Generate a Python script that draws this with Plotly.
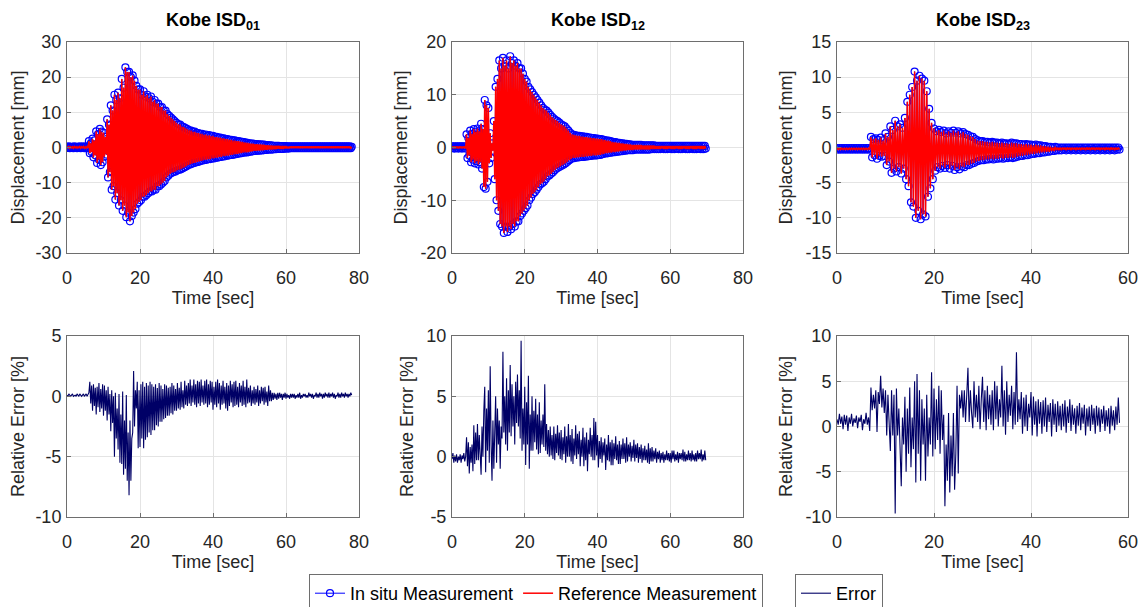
import plotly.graph_objects as go

# sample interval of the recorded signals [sec]
dt = 0.25

# displacement [mm] (reference / in-situ), one value every dt seconds
disp_01 = [0.2, -0.1, 0.3, -0.2, 0.2, -0.1, 0.2, -0.2,
           0.3, -0.1, 0.2, -0.2, 0.2, -0.1, 0.3, -0.2,
           0.2, -0.1, 0.3, -0.2, 0.2, -0.2, 0.3, -0.1,
           1.8, -1.6, 1.2, -1.3, 2.5, -2.8, 2.0, -2.2,
           4.6, -4.4, 3.8, -3.5, 5.3, -5.0, 4.5, -4.2,
           4.2, -2.6, 3.0, -2.0, 8.0, -8.5, 6.5, -7.0,
           12.0, -12.0, 10.5, -11.0, 15.0, -14.8, 13.5, -13.0,
           15.6, -16.5, 14.0, -15.0, 19.5, -18.0, 17.0, -16.5,
           22.8, -19.8, 21.5, -18.5, 21.5, -21.0, 20.0, -19.5,
           20.5, -18.5, 19.0, -17.5, 17.5, -16.0, 16.5, -15.5,
           16.5, -15.0, 15.0, -14.0, 16.0, -14.0, 14.5, -13.5,
           15.0, -13.0, 14.0, -12.5, 14.5, -12.5, 13.0, -12.0,
           13.5, -12.0, 12.5, -11.0, 12.5, -11.0, 11.5, -10.5,
           11.5, -10.0, 10.5, -9.5, 10.5, -8.5, 9.5, -8.0,
           9.0, -7.5, 8.5, -7.2, 8.0, -7.0, 7.5, -6.8,
           7.0, -6.5, 6.6, -6.3, 6.5, -6.2, 6.0, -5.9,
           5.8, -5.6, 5.5, -5.3, 5.2, -5.0, 4.9, -4.8,
           4.8, -4.6, 4.5, -4.4, 4.5, -4.3, 4.2, -4.1,
           4.1, -4.0, 3.9, -3.8, 3.9, -3.7, 3.6, -3.5,
           3.7, -3.5, 3.4, -3.3, 3.5, -3.3, 3.2, -3.1,
           3.3, -3.1, 3.0, -2.9, 3.0, -2.9, 2.8, -2.7,
           2.8, -2.7, 2.6, -2.5, 2.6, -2.5, 2.4, -2.3,
           2.4, -2.3, 2.2, -2.1, 2.2, -2.1, 2.0, -2.0,
           2.0, -1.9, 1.8, -1.8, 1.8, -1.7, 1.7, -1.6,
           1.6, -1.5, 1.5, -1.4, 1.4, -1.4, 1.3, -1.3,
           1.2, -1.2, 1.1, -1.1, 1.1, -1.0, 1.0, -1.0,
           1.0, -0.9, 0.9, -0.9, 0.9, -0.8, 0.8, -0.8,
           0.8, -0.7, 0.7, -0.7, 0.7, -0.6, 0.6, -0.6,
           0.6, -0.6, 0.5, -0.5, 0.5, -0.5, 0.5, -0.4,
           0.5, -0.4, 0.4, -0.4, 0.4, -0.4, 0.4, -0.3,
           0.4, -0.3, 0.3, -0.3, 0.3, -0.2, 0.3, -0.2,
           0.3, -0.2, 0.3, -0.2, 0.3, -0.2, 0.3, -0.2,
           0.3, -0.2, 0.3, -0.2, 0.3, -0.2, 0.3, -0.2,
           0.3, -0.2, 0.3, -0.2, 0.3, -0.2, 0.3, -0.2,
           0.3, -0.2, 0.3, -0.2, 0.3, -0.2, 0.3, -0.2,
           0.3, -0.2, 0.3, -0.2, 0.3, -0.2, 0.3, -0.2,
           0.3, -0.2, 0.3, -0.2, 0.3, -0.2, 0.3, -0.2,
           0.3, -0.2, 0.3, -0.2, 0.3, -0.2, 0.3, -0.2,
           0.3, -0.2, 0.3, -0.2, 0.3, -0.2, 0.3, -0.2,
           0.2]

disp_12 = [0.2, -0.1, 0.2, -0.2, 0.2, -0.1, 0.2, -0.2,
           0.2, -0.1, 0.2, -0.2, 0.2, -0.1, 0.2, -0.2,
           2.5, -2.0, 1.8, -1.5, 3.2, -2.8, 2.6, -2.3,
           3.5, -3.0, 3.0, -2.6, 3.6, -3.2, 3.1, -2.8,
           4.5, -4.0, 3.5, -7.5, 9.0, -7.8, 8.0, -6.5,
           7.5, -3.0, 2.7, -2.0, 0.8, -0.6, 5.0, -6.0,
           11.5, -10.0, 13.0, -12.0, 16.5, -14.5, 15.0, -15.0,
           17.0, -16.2, 15.5, -15.0, 16.5, -16.0, 15.0, -15.0,
           17.3, -15.5, 16.0, -14.5, 16.5, -15.0, 15.5, -14.0,
           16.0, -14.0, 15.0, -13.0, 15.0, -12.5, 14.0, -12.0,
           13.0, -11.5, 12.5, -11.0, 11.5, -10.0, 11.0, -9.5,
           10.5, -8.8, 10.0, -8.5, 9.5, -8.0, 9.0, -7.5,
           8.5, -7.0, 8.0, -6.8, 7.5, -6.5, 7.2, -6.0,
           7.0, -5.5, 6.6, -5.3, 6.2, -5.0, 5.8, -4.7,
           5.5, -4.3, 5.2, -4.0, 5.0, -3.8, 4.7, -3.6,
           4.4, -3.4, 4.2, -3.2, 4.0, -3.0, 3.6, -2.7,
           3.2, -2.4, 2.8, -2.2, 2.5, -2.0, 2.4, -2.0,
           2.3, -1.9, 2.2, -1.9, 2.2, -1.8, 2.1, -1.8,
           2.1, -1.8, 2.0, -1.7, 2.0, -1.7, 1.9, -1.6,
           1.9, -1.6, 1.8, -1.5, 1.8, -1.5, 1.7, -1.5,
           1.7, -1.4, 1.6, -1.4, 1.6, -1.3, 1.5, -1.2,
           1.4, -1.1, 1.3, -1.1, 1.3, -1.0, 1.2, -1.0,
           1.1, -0.9, 1.0, -0.9, 1.0, -0.8, 0.9, -0.8,
           0.9, -0.7, 0.8, -0.7, 0.8, -0.6, 0.7, -0.6,
           0.7, -0.5, 0.6, -0.5, 0.6, -0.5, 0.5, -0.5,
           0.5, -0.4, 0.5, -0.4, 0.5, -0.4, 0.5, -0.4,
           0.5, -0.4, 0.4, -0.4, 0.4, -0.4, 0.4, -0.4,
           0.4, -0.4, 0.4, -0.3, 0.4, -0.3, 0.4, -0.3,
           0.3, -0.3, 0.3, -0.3, 0.3, -0.3, 0.3, -0.2,
           0.3, -0.3, 0.3, -0.3, 0.3, -0.3, 0.3, -0.2,
           0.3, -0.3, 0.3, -0.3, 0.3, -0.3, 0.3, -0.2,
           0.3, -0.3, 0.3, -0.3, 0.3, -0.3, 0.3, -0.2,
           0.3, -0.3, 0.3, -0.3, 0.3, -0.3, 0.3, -0.2,
           0.3, -0.3, 0.3, -0.3, 0.3, -0.3, 0.3, -0.2,
           0.3, -0.3, 0.3, -0.3, 0.3, -0.3, 0.3, -0.2]

disp_23 = [-0.1, -0.3, -0.1, -0.3, -0.1, -0.3, -0.1, -0.3,
           -0.1, -0.3, -0.1, -0.3, -0.1, -0.3, -0.1, -0.3,
           -0.1, -0.3, -0.1, -0.3, -0.1, -0.3, -0.1, -0.3,
           -0.1, -0.3, -0.1, -0.3, 1.5, -1.4, 1.2, -1.1,
           1.3, -1.6, 1.1, -1.2, 1.4, -1.3, 1.0, -1.2,
           2.0, -2.5, 1.5, -2.0, 3.0, -3.6, 2.5, -3.0,
           3.8, -3.4, 3.0, -2.8, 3.3, -3.7, 2.8, -3.0,
           4.2, -4.5, 6.5, -5.5, 7.5, -7.8, 8.6, -8.4,
           10.8, -10.0, 9.5, -9.0, 10.2, -10.2, 9.8, -9.5,
           9.5, -9.8, 8.0, -7.0, 5.5, -5.8, 3.5, -4.5,
           2.7, -3.3, 2.3, -2.8, 2.5, -3.0, 2.2, -2.6,
           2.4, -2.9, 2.0, -2.5, 2.3, -3.0, 2.1, -2.6,
           2.4, -3.2, 2.1, -2.8, 2.3, -3.1, 2.0, -2.7,
           2.2, -2.8, 1.9, -2.5, 1.8, -2.5, 1.6, -2.3,
           1.5, -2.2, 1.2, -2.0, 1.0, -1.9, 0.9, -1.8,
           0.9, -1.8, 0.8, -1.7, 0.8, -1.7, 0.7, -1.6,
           0.8, -1.7, 0.7, -1.6, 0.7, -1.6, 0.6, -1.5,
           0.7, -1.6, 0.6, -1.5, 0.6, -1.5, 0.5, -1.4,
           0.7, -1.5, 0.6, -1.4, 0.6, -1.3, 0.5, -1.2,
           0.5, -1.2, 0.4, -1.1, 0.5, -1.1, 0.4, -1.0,
           0.4, -0.9, 0.3, -0.9, 0.4, -0.8, 0.3, -0.8,
           0.3, -0.7, 0.2, -0.7, 0.2, -0.6, 0.1, -0.6,
           0.1, -0.5, 0.0, -0.5, 0.1, -0.4, 0.0, -0.4,
           0.0, -0.4, 0.0, -0.3, 0.0, -0.4, 0.0, -0.3,
           0.0, -0.4, 0.0, -0.3, 0.0, -0.4, 0.0, -0.3,
           0.0, -0.4, 0.0, -0.3, 0.0, -0.4, 0.0, -0.3,
           0.0, -0.4, 0.0, -0.3, 0.0, -0.4, 0.0, -0.3,
           0.0, -0.4, 0.0, -0.3, 0.0, -0.4, 0.0, -0.3,
           0.0, -0.4, 0.0, -0.3, 0.0, -0.4, 0.0, -0.3,
           0.0, -0.3]

# relative error [%], one value every dt seconds
err_01 = [0.1, 0.0, 0.2, 0.1, 0.0, 0.1, 0.2, 0.0,
          0.1, 0.1, 0.0, 0.2, 0.1, 0.0, 0.2, 0.1,
          0.0, 0.1, 0.2, 0.0, 0.1, 0.2, 0.0, 0.1,
          0.3, 1.2, -0.6, 0.9, -1.2, 1.0, -0.8, 0.7,
          -1.5, 0.8, -0.9, 1.1, -1.3, 0.6, -1.0, 1.0,
          -1.6, 0.9, -1.2, 0.5, -2.0, 0.8, -1.5, 0.2,
          -2.9, 0.5, -2.2, 0.0, -5.0, 0.3, -3.5, -1.0,
          -4.4, 0.2, -5.5, -1.5, -5.6, 0.4, -6.5, -2.0,
          -6.0, 0.1, -7.0, -3.0, -8.2, -2.0, -7.0, -3.5,
          -3.0, 2.1, -2.5, 0.5, -1.0, 1.2, -4.3, 0.5,
          -4.2, 1.0, -3.5, 1.2, -4.3, 0.8, -3.6, 1.1,
          -3.4, 0.9, -3.0, 1.2, -3.2, 1.0, -2.8, 0.8,
          -2.8, 1.0, -2.4, 0.7, -2.5, 1.1, -2.1, 0.9,
          -2.1, 0.6, -1.9, 1.0, -1.8, 0.9, -1.6, 0.7,
          -1.6, 0.8, -1.4, 1.1, -1.5, 0.9, -1.2, 0.6,
          -1.2, 1.1, -1.0, 0.7, -1.1, 1.2, -0.9, 0.5,
          -1.0, 1.3, -0.7, 0.9, -0.8, 1.1, -0.6, 1.4,
          -0.8, 0.9, -0.5, 1.4, -0.7, 1.0, -0.9, 1.3,
          -0.6, 1.2, -0.8, 1.4, -0.5, 0.9, -0.7, 1.3,
          -0.6, 1.4, -0.9, 1.0, -0.7, 1.3, -0.5, 1.2,
          -1.1, 0.8, -0.7, 1.2, -0.9, 1.4, -0.6, 1.1,
          -1.1, 0.9, -0.7, 1.3, -0.6, 0.8, -1.0, 1.1,
          -1.2, 0.9, -0.8, 1.3, -0.5, 1.0, -0.9, 1.2,
          -0.8, 1.3, -0.7, 0.8, -0.9, 1.1, -0.5, 0.9,
          -0.8, 1.3, -0.7, 0.8, -0.9, 1.4, -0.6, 0.7,
          -0.5, 0.9, -0.8, 0.5, -0.6, 0.8, -0.7, 0.6,
          -0.5, 0.9, -0.8, 0.5, -0.6, 0.8, -0.4, 0.7,
          -0.7, 0.8, -0.5, 0.4, -0.8, 0.9, -0.4, 0.5,
          -0.4, 0.3, -0.3, 0.3, -0.2, 0.2, -0.3, 0.3,
          -0.2, 0.3, -0.1, 0.2, -0.3, 0.2, -0.1, 0.3,
          -0.2, 0.2, -0.1, 0.1, -0.2, 0.2, -0.1, 0.2,
          -0.1, 0.2, -0.2, 0.1, -0.1, 0.2, -0.1, 0.3,
          -0.2, 0.1, -0.1, 0.2, 0.0, 0.2, -0.1, 0.1,
          -0.1, 0.3, 0.0, 0.2, -0.1, 0.2, -0.2, 0.1,
          0.0, 0.3, -0.1, 0.2, -0.1, 0.3, 0.0, 0.2,
          -0.2, 0.2, -0.1, 0.3, 0.0, 0.2, -0.1, 0.3,
          -0.1, 0.2, 0.0, 0.3, -0.1, 0.2, -0.2, 0.1,
          0.0, 0.3, -0.1, 0.2, -0.1, 0.3, 0.0, 0.2,
          -0.1, 0.3, 0.0, 0.2, -0.1, 0.2, 0.0, 0.3,
          0.1]

err_12 = [-0.2, 0.3, -0.5, 0.1, -0.4, 0.2, -0.5, 0.0,
          -0.3, 0.2, -0.5, 0.1, -0.2, 0.3, -0.4, 0.0,
          1.6, -0.8, 1.2, -1.4, 0.8, -0.5, 1.0, -1.2,
          2.6, -0.6, 2.0, -0.3, 2.7, -0.3, 1.8, -0.8,
          -1.5, 2.5, 0.0, 3.8, 5.8, -1.3, 4.0, 0.5,
          5.5, -0.5, 7.5, 1.0, -2.0, 3.0, -1.0, 2.0,
          5.0, -0.5, 4.0, 1.0, 3.0, -1.0, 2.5, 1.5,
          8.7, 2.0, 5.0, 1.0, 6.5, 0.5, 5.5, 2.0,
          7.6, 1.7, 6.0, 2.5, 5.0, 1.0, 6.2, 2.8,
          6.8, 2.5, 5.5, 1.5, 9.6, 0.5, 4.0, 1.0,
          5.8, -0.7, 4.5, 1.0, 6.7, -1.0, 3.5, 0.5,
          5.0, 0.5, 3.8, 1.2, 4.8, 0.6, 3.5, 0.2,
          4.5, 0.3, 3.0, 1.0, 3.5, 0.8, 6.0, 0.5,
          2.7, 0.2, 2.2, 0.0, 2.5, 0.1, 1.8, -0.2,
          2.5, -0.3, 1.9, 0.3, 2.6, 0.1, 2.0, -0.2,
          2.2, -0.3, 1.6, 0.2, 2.5, -0.5, 1.7, 0.0,
          2.7, 0.0, 1.8, -0.4, 2.3, -0.6, 1.5, 0.1,
          2.6, -0.2, 1.9, 0.2, 2.1, -0.8, 1.4, 0.0,
          2.4, -0.8, 1.6, -0.3, 2.0, -1.2, 1.4, 0.2,
          2.4, 0.0, 1.8, -0.3, 3.2, -0.3, 2.9, 0.1,
          1.8, -0.9, 1.3, -0.2, 1.6, -0.5, 1.2, 0.1,
          1.5, -1.1, 1.0, -0.3, 1.8, -0.4, 1.2, -0.7,
          1.4, -0.7, 1.1, -0.2, 1.7, -0.3, 1.0, -0.6,
          1.3, -0.6, 1.0, -0.2, 1.5, -0.2, 1.1, -0.5,
          1.6, -0.4, 1.0, 0.0, 1.2, -0.4, 0.9, -0.1,
          1.4, -0.4, 1.0, -0.1, 1.1, -0.5, 0.8, -0.2,
          1.0, -0.5, 0.7, -0.3, 0.9, -0.3, 0.6, -0.5,
          1.1, -0.6, 0.7, -0.4, 0.8, -0.4, 0.5, -0.2,
          0.7, -0.5, 0.4, -0.2, 0.5, -0.5, 0.3, -0.3,
          0.4, -0.5, 0.2, -0.3, 0.5, -0.3, 0.3, -0.4,
          0.3, -0.5, 0.5, -0.2, 0.5, -0.4, 0.2, -0.3,
          0.4, -0.5, 0.3, -0.2, 0.3, -0.3, 0.6, -0.4,
          0.4, -0.4, 0.2, -0.3, 0.5, -0.3, 0.3, -0.4,
          0.5, -0.3, 0.2, -0.4, 0.3, -0.4, 0.5, -0.2,
          0.3, -0.2, 0.6, -0.4, 0.2, -0.3, 0.5, -0.3]

err_23 = [0.8, 0.2, 1.4, 0.3, 1.1, -0.3, 1.3, 0.2,
          1.2, -0.5, 1.0, 0.3, 1.4, 0.0, 0.9, 0.4,
          1.2, -0.2, 1.0, 0.5, 1.3, -0.4, 0.8, 0.3,
          1.5, 0.2, 1.0, -0.5, 4.3, 1.8, 3.5, 2.0,
          4.0, -0.6, 3.8, 2.5, 5.6, 2.1, 4.2, 1.5,
          4.0, -1.0, 3.5, 0.5, -2.7, 4.0, -1.0, 3.5,
          -9.6, 4.2, -1.0, 2.0, -4.0, -6.6, 1.0, -2.0,
          3.3, -5.0, 2.0, -3.0, 4.3, -4.5, 1.0, -2.5,
          5.0, -6.2, 5.8, -3.0, 4.0, -6.0, 3.0, -2.0,
          2.0, -6.0, 3.5, -3.3, 1.0, -2.0, 6.0, -3.3,
          4.2, -2.5, 3.0, -1.5, 4.5, -3.0, 4.0, -1.5,
          1.3, -8.8, -2.0, -6.0, 1.5, -7.3, -1.0, -5.5,
          1.5, -7.0, -3.0, 4.5, -5.2, 3.5, 2.0, 4.0,
          1.0, 4.0, 0.5, 3.5, 6.5, 0.5, 4.0, 1.5,
          -0.2, 5.0, 1.0, 3.5, 0.5, 4.5, -0.3, 3.0,
          5.5, 0.5, 4.0, -0.4, 4.5, 0.8, 3.5, 0.2,
          4.0, -0.4, 5.0, 0.8, 4.5, 0.0, 3.0, 1.0,
          6.7, 0.0, 4.0, -0.9, 5.0, 0.5, 3.5, 1.2,
          4.5, -0.3, 3.8, 0.2, 8.2, 0.5, 3.0, 0.8,
          3.8, -0.8, 3.2, 0.0, 3.5, -0.5, 2.5, 1.0,
          3.8, -1.0, 3.3, 0.2, 2.8, -1.1, 3.0, 0.3,
          2.7, -0.8, 2.9, 0.0, 3.2, -0.6, 2.4, 0.5,
          2.6, -1.1, 3.0, 0.2, 2.5, -0.6, 2.8, 0.1,
          2.3, -0.4, 2.5, 0.0, 2.9, -0.7, 2.2, 0.4,
          3.0, -0.5, 2.4, 0.2, 2.0, -0.8, 2.3, 0.1,
          2.6, -0.4, 2.1, 0.3, 2.4, -1.0, 2.0, 0.0,
          2.2, -0.5, 2.4, 0.2, 2.0, -0.8, 2.3, 0.1,
          2.1, -0.6, 1.9, 0.3, 2.3, -0.5, 1.8, 0.0,
          2.0, -0.8, 2.3, 0.1, 1.8, -0.4, 2.2, 0.2,
          3.2, 0.4]

titles = ['Kobe ISD<sub>01</sub>', 'Kobe ISD<sub>12</sub>', 'Kobe ISD<sub>23</sub>']
disp_ticks = [[-30, -20, -10, 0, 10, 20, 30], [-20, -10, 0, 10, 20], [-15, -10, -5, 0, 5, 10, 15]]
err_ticks = [[-10, -5, 0, 5], [-5, 0, 5, 10], [-10, -5, 0, 5, 10]]
time_ticks = [[0, 20, 40, 60, 80], [0, 20, 40, 60, 80], [0, 20, 40, 60]]

# the page adds an 8px body margin, so the figure is drawn 8px in and everything
# measured on the reference is shifted back by that amount
OFF = 8
W, H = 1146 - OFF, 607 - OFF
FONT = 'Liberation Sans, Arial, Helvetica, sans-serif'
TXT = '#262626'
BOX = '#6e6e6e'

# plot boxes in reference pixels
cols = [(67, 359), (452, 743), (837, 1128)]
top_row = (42, 253)
bot_row = (336, 517)


def xdom(c):
    return [(c[0] - OFF) / W, (c[1] - OFF) / W]


def ydom(r):
    return [1 - (r[1] - OFF) / H, 1 - (r[0] - OFF) / H]


def axis_style(domain, ticks, title, anchor, standoff, label_gap):
    return dict(
        domain=domain, anchor=anchor,
        range=[ticks[0], ticks[-1]],
        tickmode='array', tickvals=ticks, ticktext=[str(t) for t in ticks],
        showline=True, mirror=True, linecolor=BOX, linewidth=1,
        ticks='inside', ticklen=4, tickcolor=BOX,
        showgrid=True, gridcolor='#e4e4e4', gridwidth=1, zeroline=False,
        tickfont=dict(family=FONT, size=18, color=TXT),
        ticklabelstandoff=label_gap,
        title=dict(text=title, standoff=standoff, font=dict(family=FONT, size=18, color=TXT)),
        automargin=False,
    )


fig = go.Figure()
disp_sets = [disp_01, disp_12, disp_23]
err_sets = [err_01, err_12, err_23]
layout = {}
annotations = []

for i in range(3):
    top = i + 1
    bot = i + 4
    xt, yt = ('x' if top == 1 else 'x%d' % top), ('y' if top == 1 else 'y%d' % top)
    xb, yb = 'x%d' % bot, 'y%d' % bot

    fig.add_trace(go.Scatter(
        y=disp_sets[i], x0=0, dx=dt, xaxis=xt, yaxis=yt,
        mode='lines+markers', name='In situ Measurement', showlegend=(i == 0),
        line=dict(color='#0000ff', width=1),
        marker=dict(symbol='circle-open', size=7, color='#0000ff', line=dict(width=1.2)),
    ))
    fig.add_trace(go.Scatter(
        y=disp_sets[i], x0=0, dx=dt, xaxis=xt, yaxis=yt,
        mode='lines', name='Reference Measurement', showlegend=(i == 0),
        line=dict(color='#ff0000', width=1.5),
    ))
    fig.add_trace(go.Scatter(
        y=err_sets[i], x0=0, dx=dt, xaxis=xb, yaxis=yb,
        mode='lines', name='Error', showlegend=(i == 0), legend='legend2',
        line=dict(color='#000066', width=1.1),
    ))

    kx = 'xaxis' if top == 1 else 'xaxis%d' % top
    ky = 'yaxis' if top == 1 else 'yaxis%d' % top
    layout[kx] = axis_style(xdom(cols[i]), time_ticks[i], 'Time [sec]', yt, 4, 8)
    layout[ky] = axis_style(ydom(top_row), disp_ticks[i], 'Displacement [mm]', xt, 8, 1)
    layout['xaxis%d' % bot] = axis_style(xdom(cols[i]), time_ticks[i], 'Time [sec]', yb, 4, 8)
    layout['yaxis%d' % bot] = axis_style(ydom(bot_row), err_ticks[i], 'Relative Error [%]', xb, 8, 1)

    annotations.append(dict(
        text='<b>%s</b>' % titles[i], xref='paper', yref='paper',
        x=((cols[i][0] + cols[i][1]) / 2 - OFF) / W, y=1,
        xanchor='center', yanchor='top', showarrow=False,
        font=dict(family=FONT, size=18, color='#000000'),
    ))

fig.update_layout(
    width=W, height=H,
    margin=dict(l=0, r=0, t=0, b=0, autoexpand=False),
    paper_bgcolor='white', plot_bgcolor='white',
    font=dict(family=FONT, size=18, color=TXT),
    annotations=annotations,
    legend=dict(orientation='h', x=(309 - OFF) / W, y=1 - (574 - OFF) / H,
                xanchor='left', yanchor='top',
                bordercolor=BOX, borderwidth=1, bgcolor='white',
                font=dict(family=FONT, size=18, color='#000000'), tracegroupgap=0),
    legend2=dict(orientation='h', x=(795 - OFF) / W, y=1 - (574 - OFF) / H,
                 xanchor='left', yanchor='top',
                 bordercolor=BOX, borderwidth=1, bgcolor='white',
                 font=dict(family=FONT, size=18, color='#000000')),
    **layout,
)

fig.write_html('out.html')
